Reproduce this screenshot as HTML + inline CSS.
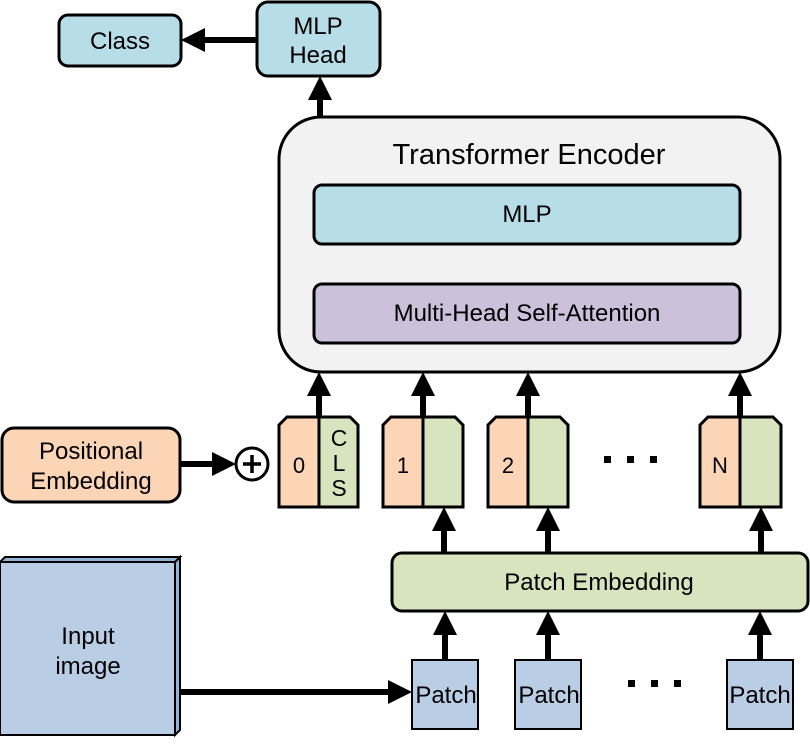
<!DOCTYPE html>
<html><head><meta charset="utf-8"><style>
body{margin:0;background:#fff}
svg text{font-family:"Liberation Sans",Arial,sans-serif;fill:#000}
</style></head><body>
<svg width="810" height="745" viewBox="0 0 810 745" xmlns="http://www.w3.org/2000/svg">
<defs>
<marker id="ah" markerWidth="4" markerHeight="4" refX="2" refY="2" orient="auto" markerUnits="strokeWidth">
<path d="M0,0 L4,2 L0,4 z" fill="#000"/></marker>
</defs>
<g stroke="#000" stroke-width="3">
<rect x="59" y="15" width="122" height="51" rx="9" fill="#b7dde8"/>
<rect x="257" y="2" width="123" height="74" rx="11" fill="#b7dde8"/>
<rect x="279" y="117" width="501" height="255" rx="42" fill="#f2f2f2"/>
<rect x="314" y="185" width="426" height="59" rx="8" fill="#b7dde8"/>
<rect x="314" y="284" width="426" height="59" rx="8" fill="#ccc1da"/>
<rect x="2" y="428" width="178" height="74" rx="12" fill="#fbd5b5"/>
<rect x="392" y="553" width="416" height="58" rx="10" fill="#d7e4bd"/>
<circle cx="252" cy="464" r="16" fill="#fff"/>
<path d="M175,562 L180,557 L180,730 L175,735 Z" fill="#95b3d7" stroke-width="2"/>
<path d="M0,562 L5,557 L180,557 L175,562 Z" fill="#95b3d7" stroke-width="2"/>
<rect x="0" y="562" width="175" height="173" fill="#b9cde5" stroke-width="2"/>
<rect x="412" y="660" width="66" height="69" fill="#b9cde5" stroke-width="2"/>
<rect x="515" y="660" width="66" height="69" fill="#b9cde5" stroke-width="2"/>
<rect x="727" y="660" width="66" height="69" fill="#b9cde5" stroke-width="2"/>
</g>
<g stroke="#000" stroke-width="3">
<path d="M279,507 L279,425 L287,417 L319,417 L319,507 Z" fill="#fbd5b5"/>
<path d="M319,507 L319,417 L350,417 L358,425 L358,507 Z" fill="#d7e4bd"/>
<path d="M383,507 L383,425 L391,417 L423,417 L423,507 Z" fill="#fbd5b5"/>
<path d="M423,507 L423,417 L455,417 L463,425 L463,507 Z" fill="#d7e4bd"/>
<path d="M488,507 L488,425 L496,417 L528,417 L528,507 Z" fill="#fbd5b5"/>
<path d="M528,507 L528,417 L560,417 L568,425 L568,507 Z" fill="#d7e4bd"/>
<path d="M700,507 L700,425 L708,417 L740,417 L740,507 Z" fill="#fbd5b5"/>
<path d="M740,507 L740,417 L773,417 L781,425 L781,507 Z" fill="#d7e4bd"/>
</g>
<g stroke="#000" stroke-width="3.5"><line x1="243" y1="464" x2="261" y2="464"/><line x1="252" y1="455" x2="252" y2="473"/></g>
<g stroke="#000" stroke-width="6" marker-end="url(#ah)">
<line x1="257" y1="40" x2="193" y2="40"/>
<line x1="320" y1="117" x2="320" y2="88"/>
<line x1="319" y1="417" x2="319" y2="384"/>
<line x1="423" y1="417" x2="423" y2="384"/>
<line x1="528" y1="417" x2="528" y2="384"/>
<line x1="740" y1="417" x2="740" y2="384"/>
<line x1="180" y1="464" x2="224" y2="464"/>
<line x1="444" y1="553" x2="444" y2="519"/>
<line x1="548" y1="553" x2="548" y2="519"/>
<line x1="761" y1="553" x2="761" y2="519"/>
<line x1="445" y1="660" x2="445" y2="623"/>
<line x1="548" y1="660" x2="548" y2="623"/>
<line x1="760" y1="660" x2="760" y2="623"/>
<line x1="180" y1="692" x2="400" y2="692"/>
</g>
<g fill="#000">
<rect x="604" y="456" width="7" height="7"/><rect x="627" y="456" width="7" height="7"/><rect x="650" y="456" width="7" height="7"/>
<rect x="628" y="680" width="7" height="7"/><rect x="651" y="680" width="7" height="7"/><rect x="674" y="680" width="7" height="7"/>
</g>
<g font-size="24" text-anchor="middle">
<text x="120" y="49">Class</text>
<text x="318" y="34">MLP</text>
<text x="318" y="63">Head</text>
<text x="529" y="164" font-size="29">Transformer Encoder</text>
<text x="527" y="222">MLP</text>
<text x="527" y="321">Multi-Head Self-Attention</text>
<text x="91" y="459">Positional</text>
<text x="91" y="489">Embedding</text>
<text x="599" y="590">Patch Embedding</text>
<text x="88" y="644">Input</text>
<text x="88" y="674">image</text>
<text x="446" y="703">Patch</text>
<text x="549" y="703">Patch</text>
<text x="760" y="703">Patch</text>
<text x="299" y="473" font-size="22">0</text>
<text x="403" y="473" font-size="22">1</text>
<text x="508" y="473" font-size="22">2</text>
<text x="720" y="473" font-size="22">N</text>
<text x="339" y="446" font-size="23" font-family="Liberation Serif,serif">C</text>
<text x="339" y="471" font-size="23" font-family="Liberation Serif,serif">L</text>
<text x="339" y="496" font-size="23" font-family="Liberation Serif,serif">S</text>
</g>
</svg>
</body></html>
